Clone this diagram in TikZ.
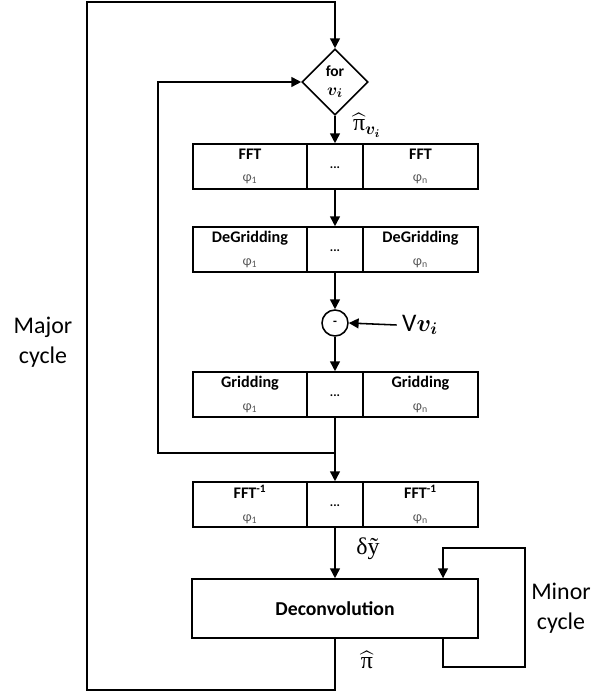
\documentclass[tikz,border=0pt]{standalone}
\usepackage{fontspec}
\usepackage{amsmath,amssymb}
\setmainfont{Carlito}
\newfontfamily\symfont{Liberation Serif}
\usetikzlibrary{arrows.meta,shapes.geometric}

\begin{document}
\begin{tikzpicture}[x=0.025cm, y=-0.025cm, line width=1.1pt, -{Triangle[length=7pt,width=7pt]},
	cell/.style={draw, rectangle, minimum height=1.125cm, inner sep=0pt, align=center, font=\fontsize{11.5}{16}\selectfont\bfseries},
	decide/.style={draw, diamond, aspect=1, minimum size=1.65cm, inner sep=0pt, align=center, font=\fontsize{11}{12}\selectfont},
	big/.style={align=center, font=\fontsize{17}{21}\selectfont}]
	\useasboundingbox (0,0) rectangle (597,694);
	\node[decide] (for) at (335,82) {\textbf{for}\\[1pt]\fontsize{13}{13}\selectfont$\boldsymbol{v_i}$};
	\node[font=\fontsize{17}{17}\selectfont] (pihatv) at (367,125) {$\widehat{\mbox{\symfont π}}_{\boldsymbol{v_i}}$};
	% processing rows
	\foreach \nm/\yy/\txt in {fft/166.5/FFT, degrid/249.5/DeGridding, grid/394.5/Gridding, ifft/504.5/FFT\textsuperscript{-1}} {
		\node[cell, minimum width=2.85cm] (\nm-l) at (250,\yy) {\txt\\{\color{black!65}\mdseries\fontsize{10}{10}\selectfont φ\textsubscript{1}}};
		\node[cell, minimum width=1.4cm, font=\fontsize{9}{9}\selectfont\bfseries] (\nm-m) at (335,\yy) {\raisebox{-3pt}{...}};
		\node[cell, minimum width=2.875cm] (\nm-r) at (420.5,\yy) {\txt\\{\color{black!65}\mdseries\fontsize{10}{10}\selectfont φ\textsubscript{n}}};
	}
	\node[draw, circle, minimum size=0.65cm, inner sep=0pt, font=\bfseries\small] (minus) at (335,323) {-};
	\node[font=\fontsize{18}{18}\selectfont] (vvis) at (420,325) {V$\boldsymbol{v_i}$};
	\node[draw, rectangle, minimum width=7.15cm, minimum height=1.475cm, font=\fontsize{14}{14}\selectfont\bfseries] (decon) at (335,608.5) {Deconvolution};
	\node[font=\symfont\fontsize{17}{17}\selectfont] (dy) at (368,549) {δỹ};
	\node[font=\fontsize{17}{17}\selectfont] (pihat) at (367,660) {$\widehat{\mbox{\symfont π}}$};
	\node[big] (major) at (43,342) {Major\\cycle};
	\node[big] (minor) at (561,608) {Minor\\cycle};
	% main flow
	\draw (for.south) -- (fft-m.north);
	\draw (fft-m.south) -- (degrid-m.north);
	\draw (degrid-m.south) -- (minus.north);
	\draw (vvis.west) -- (minus.east);
	\draw (minus.south) -- (grid-m.north);
	\draw (grid-m.south) -- (ifft-m.north);
	\draw (ifft-m.south) -- (decon.north);
	% loops
	\coordinate (split) at (335,453);
	\coordinate (innertl) at (158,82);
	\draw (split) -| (innertl) -- (for.west);
	\coordinate (majorbl) at (87,690);
	\coordinate (majortl) at (87,2);
	\draw (decon.south) |- (majorbl) -- (majortl) -| (for.north);
	\coordinate (minorbr) at (525,667);
	\coordinate (minortr) at (525,548);
	\draw ([xshift=2.7cm]decon.south) |- (minorbr) -- (minortr) -| ([xshift=2.7cm]decon.north);
\end{tikzpicture}
\end{document}
